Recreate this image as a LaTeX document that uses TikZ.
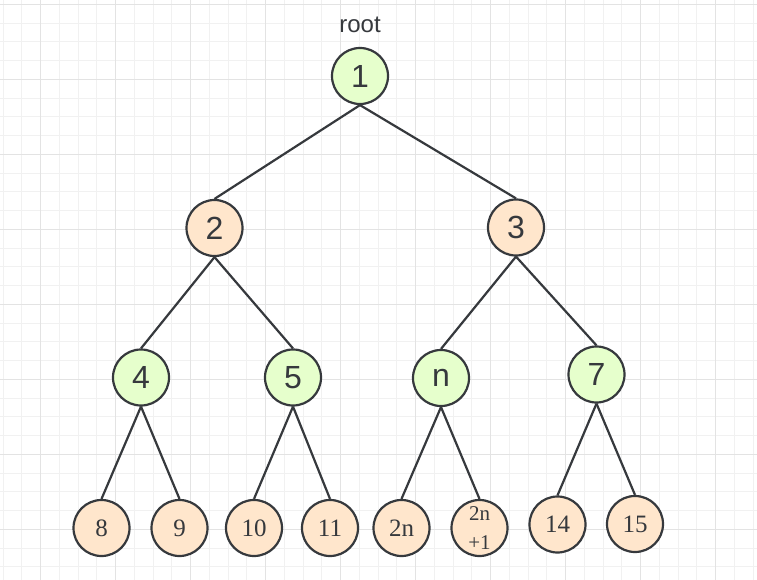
\documentclass[tikz,border=0pt]{standalone}
\usepackage{fontspec}
\setmainfont{Liberation Serif}
\setsansfont{Liberation Sans}
\usetikzlibrary{backgrounds}

\definecolor{nodegreen}{HTML}{E6FFCC}
\definecolor{nodepeach}{HTML}{FFE6CC}
\definecolor{edgegray}{HTML}{36393D}
\definecolor{gridminor}{HTML}{F1F1F1}
\definecolor{gridmajor}{HTML}{E3E3E3}

\begin{document}
\begin{tikzpicture}[
  x=1pt, y=-1pt,
  line width=2.2pt,
  nd/.style={circle, draw=edgegray, minimum size=56pt, inner sep=0pt, text=edgegray,
             font=\sffamily\fontsize{32}{32}\selectfont},
  grn/.style={nd, fill=nodegreen},
  org/.style={nd, fill=nodepeach},
  leaf/.style={org, font=\rmfamily\fontsize{25}{25}\selectfont},
  lbl/.style={text=edgegray, font=\sffamily\fontsize{24}{24}\selectfont},
  edge/.style={draw=edgegray, line width=2.2pt},
  gmin/.style={draw=gridminor, line width=1pt},
  gmaj/.style={draw=gridmajor, line width=1pt},
]
\useasboundingbox (0,0) rectangle (757,580);

% ---------------- tree nodes ----------------
\node[grn] (n1) at (360,76) {1};
\node[lbl] (rootlbl) at (360,25) {root};

\node[org] (n2) at (214.5,228) {2};
\node[org] (n3) at (516,227.5) {3};

\node[grn] (n4) at (141,377.5) {4};
\node[grn] (n5) at (293,377.5) {5};
\node[grn] (nn) at (441,378) {n};
\node[grn] (n7) at (596.5,374.5) {7};

\node[leaf] (n8)  at (101.5,528) {8};
\node[leaf] (n9)  at (179.5,528) {9};
\node[leaf] (n10) at (254,528) {10};
\node[leaf] (n11) at (330,528) {11};
\node[leaf] (n2n) at (401.5,528) {2n};
\node[leaf, align=center, font=\rmfamily\fontsize{21}{29}\selectfont] (n2n1) at (479.5,528) {2n\\+1};
\node[leaf] (n14) at (557.5,524.5) {14};
\node[leaf] (n15) at (635,524) {15};

% ---------------- grid + edges behind the nodes ----------------
\begin{pgfonlayer}{background}
  \fill[white] (0,0) rectangle (757,580);
  \foreach \k in {0,...,40}
    \draw[gmin] (3.2+18.75*\k,0) -- (3.2+18.75*\k,580);
  \foreach \k in {0,...,30}
    \draw[gmin] (0,4.3+18.75*\k) -- (757,4.3+18.75*\k);
  \foreach \k in {0,...,9}
    \draw[gmaj] (40.7+75*\k,0) -- (40.7+75*\k,580);
  \foreach \k in {0,...,7}
    \draw[gmaj] (0,4.3+75*\k) -- (757,4.3+75*\k);

  \foreach \p/\a/\b in {n1/n2/n3, n2/n4/n5, n3/nn/n7, n4/n8/n9, n5/n10/n11, nn/n2n/n2n1, n7/n14/n15} {
    \draw[edge] (\p.south) -- (\a.north);
    \draw[edge] (\p.south) -- (\b.north);
  }
\end{pgfonlayer}
\end{tikzpicture}
\end{document}
